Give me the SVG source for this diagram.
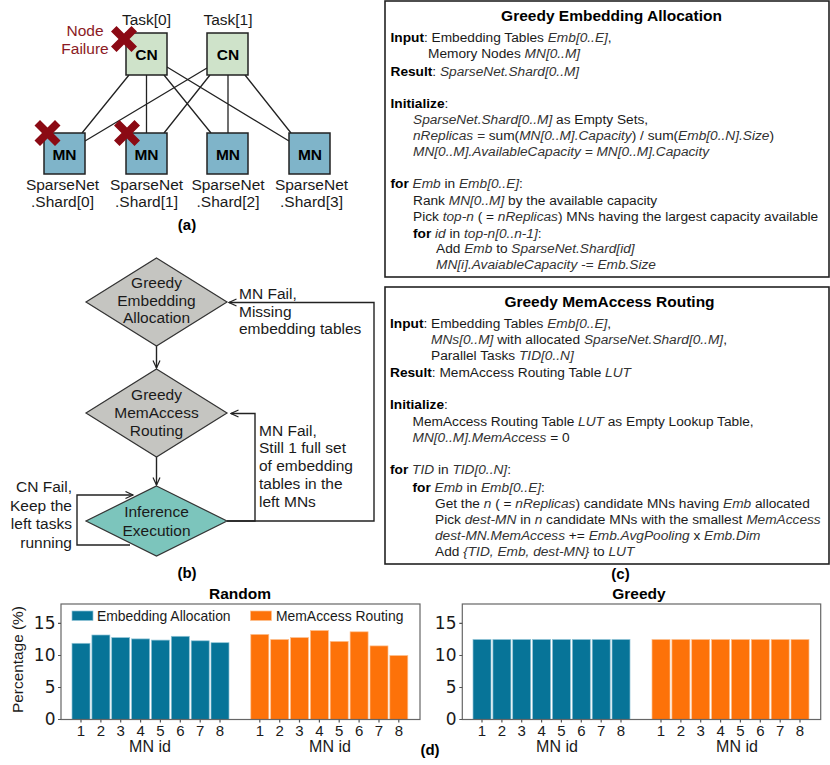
<svg xmlns="http://www.w3.org/2000/svg" width="830" height="765" viewBox="0 0 830 765">
<style>
text{font-family:"Liberation Sans",Arial,sans-serif;fill:#1a1a1a}
.l{font-size:15.5px}.m{text-anchor:middle}.e{text-anchor:end}
.bt{font-size:15.5px;font-weight:bold;fill:#000}
.c{font-size:13.7px}
.b{font-weight:bold;fill:#000}.i{font-style:italic;fill:#333}
.h{font-size:15.5px;font-weight:bold;text-anchor:middle;fill:#000}
.cap{font-size:15px;font-weight:bold;text-anchor:middle;fill:#000}
.cn{fill:#cfe3ca;stroke:#222;stroke-width:1.5}
.mn{fill:#7fb4c9;stroke:#222;stroke-width:1.5}
.x{fill:#8b0a14;stroke:none}
.red{fill:#8b1a24;font-size:15.5px;text-anchor:middle}
.dg{fill:#c5c5c1;stroke:#333;stroke-width:1.2}
.dt{fill:#7cc5bc;stroke:#333;stroke-width:1.2}
.link{stroke:#222;stroke-width:1.3;fill:none}
.arrow{stroke:#222;stroke-width:1.4;fill:none;marker-end:url(#v)}
.box{fill:#fff;stroke:#222;stroke-width:1.6}
.t{fill:#077498;stroke:#8fc4d6;stroke-width:.7}
.o{fill:#fd7209;stroke:#fdc090;stroke-width:.7}
.frame{fill:none;stroke:#666;stroke-width:1.2}
.ax{stroke:#555;stroke-width:1.2;fill:none}
.yt{font-size:17px;font-family:"DejaVu Sans",sans-serif;text-anchor:end}
.xt{font-size:15px;text-anchor:middle}
.xl{font-size:16px;text-anchor:middle}
.leg{font-size:13.9px}
</style>
<defs>
<marker id="v" markerWidth="10" markerHeight="10" refX="8.5" refY="4" orient="auto" markerUnits="userSpaceOnUse"><path d="M1 0.5L8.5 4L1 7.5" fill="none" stroke="#222" stroke-width="1.2"/></marker>
<path id="cross" d="M-7.5-13L0-5.500L7.5-13L13-7.5L5.500 0L13 7.5L7.5 13L0 5.500L-7.5 13L-13 7.5L-5.500 0L-13-7.5Z"/>
</defs>

<g id="connectors">
<g id="topology-links">
<path class="link" d="M129 75L82 133M146.500 75V133M164 75L211 133M167 67L289 141M207 68L85 141M210 75L164 133M228 75V133M245 75L291 133"/>
</g>
<g id="flow-links">
<path class="arrow" d="M156.500 346V368"/>
<path class="arrow" d="M156.500 457V485"/>
<path class="arrow" d="M227 521H374V302.500H229"/>
<path class="arrow" d="M227 521H255V413.500H231"/>
<path class="arrow" d="M130 545H77V495H133"/>
</g>
</g>

<g id="cn0"><rect class="cn" x="126" y="33" width="41" height="42"/><text class="bt m" x="146.500" y="60">CN</text></g>
<g id="cn1"><rect class="cn" x="207" y="33" width="41" height="42"/><text class="bt m" x="228" y="60">CN</text></g>
<g id="mn0"><rect class="mn" x="44" y="133" width="41" height="41"/><text class="bt m" x="64.500" y="160">MN</text></g>
<g id="mn1"><rect class="mn" x="126" y="133" width="41" height="41"/><text class="bt m" x="146.500" y="160">MN</text></g>
<g id="mn2"><rect class="mn" x="207" y="133" width="41" height="41"/><text class="bt m" x="228" y="160">MN</text></g>
<g id="mn3"><rect class="mn" x="289" y="133" width="41" height="41"/><text class="bt m" x="310" y="160">MN</text></g>
<g id="failures">
<use href="#cross" class="x" x="124" y="39"/><use href="#cross" class="x" x="47.500" y="133"/><use href="#cross" class="x" x="127" y="133"/>
</g>
<g id="topology-labels">
<text class="l m" x="146.500" y="25">Task[0]</text><text class="l m" x="228" y="25">Task[1]</text>
<text class="red" x="85" y="36">Node</text><text class="red" x="85" y="54">Failure</text>
<text class="l m" x="62.500" y="190">SparseNet</text><text class="l m" x="62.500" y="207">.Shard[0]</text>
<text class="l m" x="146.500" y="190">SparseNet</text><text class="l m" x="146.500" y="207">.Shard[1]</text>
<text class="l m" x="228" y="190">SparseNet</text><text class="l m" x="228" y="207">.Shard[2]</text>
<text class="l m" x="311.500" y="190">SparseNet</text><text class="l m" x="311.500" y="207">.Shard[3]</text>
<text class="cap" x="187" y="230">(a)</text>
</g>

<g id="flow-allocation"><path class="dg" d="M156.500 258L227 302L156.500 346L86 302Z"/>
<text class="l m" x="156.500" y="288">Greedy</text><text class="l m" x="156.500" y="306">Embedding</text><text class="l m" x="156.500" y="323">Allocation</text></g>
<g id="flow-routing"><path class="dg" d="M156.500 369L227 413L156.500 457L86 413Z"/>
<text class="l m" x="156.500" y="400">Greedy</text><text class="l m" x="156.500" y="418">MemAccess</text><text class="l m" x="156.500" y="436">Routing</text></g>
<g id="flow-inference"><path class="dt" d="M156.500 486L227 521L156.500 556L86 521Z"/>
<text class="l m" x="156.500" y="517">Inference</text><text class="l m" x="156.500" y="535.500">Execution</text></g>
<g id="flow-labels">
<text class="l" x="239" y="299">MN Fail,</text><text class="l" x="239" y="317">Missing</text><text class="l" x="239" y="334">embedding tables</text>
<text class="l" x="259" y="436">MN Fail,</text><text class="l" x="259" y="453">Still 1 full set</text><text class="l" x="259" y="471">of embedding</text><text class="l" x="259" y="489">tables in the</text><text class="l" x="259" y="507">left MNs</text>
<text class="l e" x="72" y="492">CN Fail,</text><text class="l e" x="72" y="511">Keep the</text><text class="l e" x="72" y="529">left tasks</text><text class="l e" x="72" y="548">running</text>
<text class="cap" x="187" y="578">(b)</text>
</g>

<g id="algo-allocation">
<rect class="box" x="385" y="1" width="444" height="276"/>
<text class="h" x="611.500" y="21">Greedy Embedding Allocation</text>
<text class="c" x="390.500" y="42"><tspan class="b">Input</tspan>: Embedding Tables <tspan class="i">Emb[0..E]</tspan>,</text>
<text class="c" x="428" y="58">Memory Nodes <tspan class="i">MN[0..M]</tspan></text>
<text class="c" x="390.500" y="76"><tspan class="b">Result</tspan>: <tspan class="i">SparseNet.Shard[0..M]</tspan></text>
<text class="c" x="390.500" y="108"><tspan class="b">Initialize</tspan>:</text>
<text class="c" x="413" y="124"><tspan class="i">SparseNet.Shard[0..M]</tspan> as Empty Sets,</text>
<text class="c" x="413" y="140"><tspan class="i">nReplicas =</tspan> sum(<tspan class="i">MN[0..M].Capacity</tspan>) / sum(<tspan class="i">Emb[0..N].Size</tspan>)</text>
<text class="c" x="413" y="156"><tspan class="i">MN[0..M].AvailableCapacity = MN[0..M].Capacity</tspan></text>
<text class="c" x="390.500" y="188"><tspan class="b">for</tspan> <tspan class="i">Emb</tspan> in <tspan class="i">Emb[0..E]</tspan>:</text>
<text class="c" x="413" y="205">Rank <tspan class="i">MN[0..M]</tspan> by the available capacity</text>
<text class="c" x="413" y="221">Pick <tspan class="i">top-n</tspan> ( = <tspan class="i">nReplicas</tspan>) MNs having the largest capacity available</text>
<text class="c" x="413" y="238"><tspan class="b">for</tspan> <tspan class="i">id</tspan> in <tspan class="i">top-n[0..n-1]</tspan>:</text>
<text class="c" x="436" y="253">Add <tspan class="i">Emb</tspan> to <tspan class="i">SparseNet.Shard[id]</tspan></text>
<text class="c" x="436" y="269"><tspan class="i">MN[i].AvaiableCapacity -= Emb.Size</tspan></text>
</g>

<g id="algo-routing">
<rect class="box" x="385" y="287" width="444" height="277"/>
<text class="h" x="609.500" y="307">Greedy MemAccess Routing</text>
<text class="c" x="390" y="328"><tspan class="b">Input</tspan>: Embedding Tables <tspan class="i">Emb[0..E]</tspan>,</text>
<text class="c" x="431" y="344"><tspan class="i">MNs[0..M]</tspan> with allocated <tspan class="i">SparseNet.Shard[0..M]</tspan>,</text>
<text class="c" x="431" y="360">Parallel Tasks <tspan class="i">TID[0..N]</tspan></text>
<text class="c" x="390" y="377"><tspan class="b">Result</tspan>: MemAccess Routing Table <tspan class="i">LUT</tspan></text>
<text class="c" x="390" y="409"><tspan class="b">Initialize</tspan>:</text>
<text class="c" x="412.500" y="426">MemAccess Routing Table <tspan class="i">LUT</tspan> as Empty Lookup Table,</text>
<text class="c" x="412.500" y="442"><tspan class="i">MN[0..M].MemAccess</tspan> = 0</text>
<text class="c" x="390" y="474"><tspan class="b">for</tspan> <tspan class="i">TID</tspan> in <tspan class="i">TID[0..N]</tspan>:</text>
<text class="c" x="412.500" y="492"><tspan class="b">for</tspan> <tspan class="i">Emb</tspan> in <tspan class="i">Emb[0..E]</tspan>:</text>
<text class="c" x="435" y="508">Get the <tspan class="i">n</tspan> ( = <tspan class="i">nReplicas</tspan>) candidate MNs having <tspan class="i">Emb</tspan> allocated</text>
<text class="c" x="435" y="524">Pick <tspan class="i">dest-MN</tspan> in <tspan class="i">n</tspan> candidate MNs with the smallest <tspan class="i">MemAccess</tspan></text>
<text class="c" x="435" y="540"><tspan class="i">dest-MN.MemAccess</tspan> += <tspan class="i">Emb.AvgPooling</tspan> x <tspan class="i">Emb.Dim</tspan></text>
<text class="c" x="435" y="556">Add <tspan class="i">{TID, Emb, dest-MN}</tspan> to <tspan class="i">LUT</tspan></text>
<text class="cap" x="620.500" y="579">(c)</text>
</g>

<g id="chart-random">
<text class="h" x="240" y="599">Random</text>
<g class="t">
<rect x="72" y="643.300" width="18" height="76.200"/><rect x="91.900" y="635" width="18" height="84.500"/><rect x="111.700" y="637.600" width="18" height="81.900"/><rect x="131.600" y="638.900" width="18" height="80.600"/><rect x="151.400" y="640.100" width="18" height="79.400"/><rect x="171.300" y="636.300" width="18" height="83.200"/><rect x="191.200" y="640.800" width="18" height="78.700"/><rect x="211" y="642.700" width="18" height="76.800"/>
</g>
<g class="o">
<rect x="250.800" y="634.400" width="18" height="85.100"/><rect x="270.700" y="639.500" width="18" height="80"/><rect x="290.500" y="637.600" width="18" height="81.900"/><rect x="310.400" y="630.500" width="18" height="89"/><rect x="330.200" y="641.400" width="18" height="78.100"/><rect x="350.100" y="631.800" width="18" height="87.700"/><rect x="370" y="645.900" width="18" height="73.600"/><rect x="389.800" y="655.500" width="18" height="64"/>
</g>
<rect class="frame" x="61" y="604" width="359" height="115.500"/>
<path class="ax" d="M58 623.300H61M58 655.500H61M58 687.500H61M58 719.500H61M81 719.500v3M100.900 719.500v3M120.700 719.500v3M140.600 719.500v3M160.400 719.500v3M180.300 719.500v3M200.200 719.500v3M220 719.500v3M259.800 719.500v3M279.700 719.500v3M299.500 719.500v3M319.400 719.500v3M339.200 719.500v3M359.100 719.500v3M379 719.500v3M398.800 719.500v3"/>
<text class="yt" x="55.500" y="629">15</text><text class="yt" x="55.500" y="661">10</text><text class="yt" x="55.500" y="693">5</text><text class="yt" x="55.500" y="725">0</text>
<text class="l" transform="translate(23 713) rotate(-90)" style="font-size:15.400px">Percentage (%)</text>
<g class="xt"><text x="81" y="736">1</text><text x="100.900" y="736">2</text><text x="120.700" y="736">3</text><text x="140.600" y="736">4</text><text x="160.400" y="736">5</text><text x="180.300" y="736">6</text><text x="200.200" y="736">7</text><text x="220" y="736">8</text>
<text x="259.800" y="736">1</text><text x="279.700" y="736">2</text><text x="299.500" y="736">3</text><text x="319.400" y="736">4</text><text x="339.200" y="736">5</text><text x="359.100" y="736">6</text><text x="379" y="736">7</text><text x="398.800" y="736">8</text></g>
<text class="xl" x="150" y="752">MN id</text><text class="xl" x="330" y="752">MN id</text>
<rect class="t" x="72" y="611" width="21" height="9.500"/><text class="leg" x="97" y="621">Embedding Allocation</text>
<rect class="o" x="250.500" y="611" width="21" height="9.500"/><text class="leg" x="276" y="621">MemAccess Routing</text>
</g>

<g id="chart-greedy">
<text class="h" x="639" y="599">Greedy</text>
<g class="t">
<rect x="473" y="639.500" width="18" height="80"/><rect x="492.900" y="639.500" width="18" height="80"/><rect x="512.700" y="639.500" width="18" height="80"/><rect x="532.600" y="639.500" width="18" height="80"/><rect x="552.400" y="639.500" width="18" height="80"/><rect x="572.300" y="639.500" width="18" height="80"/><rect x="592.200" y="639.500" width="18" height="80"/><rect x="612" y="639.500" width="18" height="80"/>
</g>
<g class="o">
<rect x="652" y="639.500" width="18" height="80"/><rect x="671.900" y="639.500" width="18" height="80"/><rect x="691.700" y="639.500" width="18" height="80"/><rect x="711.600" y="639.500" width="18" height="80"/><rect x="731.400" y="639.500" width="18" height="80"/><rect x="751.300" y="639.500" width="18" height="80"/><rect x="771.200" y="639.500" width="18" height="80"/><rect x="791" y="639.500" width="18" height="80"/>
</g>
<rect class="frame" x="462.300" y="604" width="358.400" height="115.500"/>
<path class="ax" d="M459.300 623.300H462.300M459.300 655.500H462.300M459.300 687.500H462.300M459.300 719.500H462.300M482 719.500v3M501.900 719.500v3M521.700 719.500v3M541.600 719.500v3M561.400 719.500v3M581.300 719.500v3M601.200 719.500v3M621 719.500v3M661 719.500v3M680.900 719.500v3M700.700 719.500v3M720.600 719.500v3M740.400 719.500v3M760.300 719.500v3M780.200 719.500v3M800 719.500v3"/>
<text class="yt" x="456.500" y="629">15</text><text class="yt" x="456.500" y="661">10</text><text class="yt" x="456.500" y="693">5</text><text class="yt" x="456.500" y="725">0</text>
<g class="xt"><text x="482" y="736">1</text><text x="501.900" y="736">2</text><text x="521.700" y="736">3</text><text x="541.600" y="736">4</text><text x="561.400" y="736">5</text><text x="581.300" y="736">6</text><text x="601.200" y="736">7</text><text x="621" y="736">8</text>
<text x="661" y="736">1</text><text x="680.900" y="736">2</text><text x="700.700" y="736">3</text><text x="720.600" y="736">4</text><text x="740.400" y="736">5</text><text x="760.300" y="736">6</text><text x="780.200" y="736">7</text><text x="800" y="736">8</text></g>
<text class="xl" x="557" y="752">MN id</text><text class="xl" x="737" y="752">MN id</text>
<text class="cap" x="430" y="755">(d)</text>
</g>
</svg>
